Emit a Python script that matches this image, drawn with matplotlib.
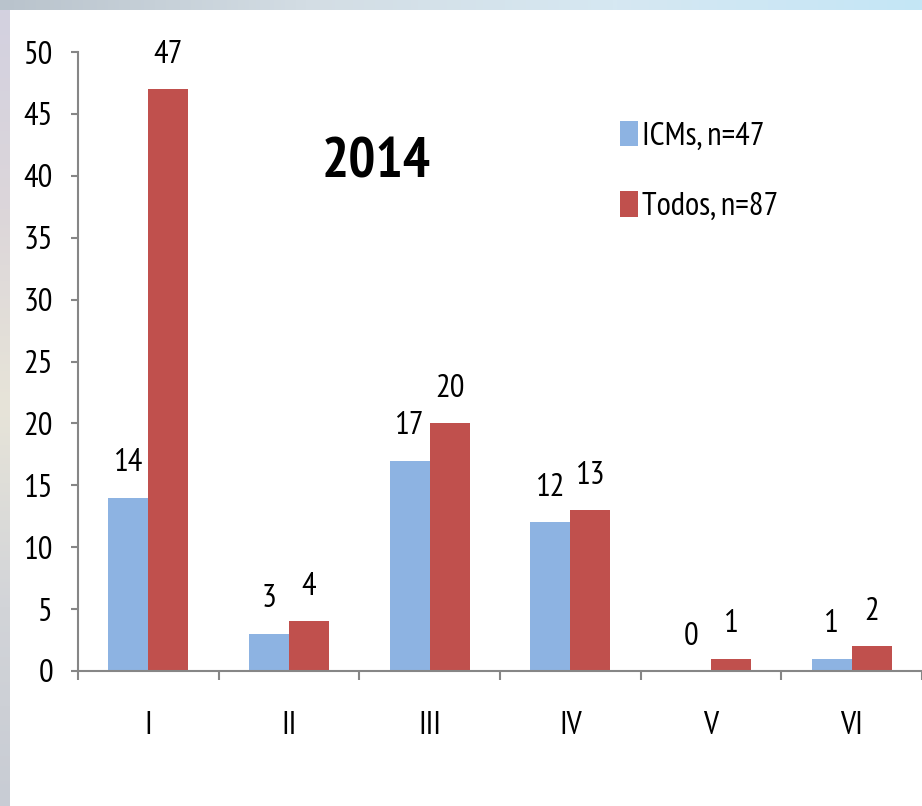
import matplotlib.pyplot as plt
import matplotlib.patches as patches
from matplotlib.colors import LinearSegmentedColormap
import numpy as np

plt.rcParams['font.family'] = ['PT Sans Narrow', 'DejaVu Sans']

# data
categories = ['I', 'II', 'III', 'IV', 'V', 'VI']
icms = [14, 3, 17, 12, 0, 1]
todos = [47, 4, 20, 13, 1, 2]
series_labels = ['ICMs, n=47', 'Todos, n=87']
title = '2014'

blue = '#8db3e2'
red = '#c0504d'
gray = '#868686'
fs = 23.5

fig = plt.figure(figsize=(9.22, 8.06), dpi=100)

# background: faint sky-like strips at top and left, white panel
bg = fig.add_axes([0, 0, 1, 1], zorder=-10)
sky = LinearSegmentedColormap.from_list('sky', ['#b9c3cc', '#d3dde4', '#d6e8f2', '#c4e6f6'])
side = LinearSegmentedColormap.from_list('side', ['#d3d1e0', '#dcd6da', '#e7e4d8', '#d2d4d8', '#c8ccd4'])
bg.imshow(np.linspace(0, 1, 256)[None, :], extent=[0, 1, 0, 1], aspect='auto', cmap=sky)
bg.imshow(np.linspace(0, 1, 256)[:, None], extent=[0, 10 / 922, 0, 1 - 10 / 806],
          aspect='auto', cmap=side)
bg.add_patch(patches.Rectangle((10 / 922, 0), 1, 1 - 10 / 806,
                               facecolor='white', edgecolor='none'))
bg.set_xlim(0, 1)
bg.set_ylim(0, 1)
bg.axis('off')

ax = fig.add_axes([78 / 922, 135 / 806, 1 - 78 / 922, (671 - 52) / 806])
ax.set_facecolor('none')

x = np.arange(len(categories)) + 0.5
w = 0.285
b1 = ax.bar(x - w / 2, icms, w, color=blue, label=series_labels[0])
b2 = ax.bar(x + w / 2, todos, w, color=red, label=series_labels[1])

for xs, vals in ((x - w / 2, icms), (x + w / 2, todos)):
    for xi, v in zip(xs, vals):
        ax.annotate(str(v), (xi, v), xytext=(0, 19), textcoords='offset points',
                    ha='center', va='baseline', fontsize=fs)

ax.set_xlim(0, len(categories))
ax.set_ylim(0, 50)
ax.set_yticks(range(0, 51, 5))
ax.set_xticks(np.arange(len(categories) + 1))
ax.set_xticklabels([])
ax.set_xticks(x, minor=True)
ax.set_xticklabels(categories, minor=True, fontsize=fs)
ax.tick_params(axis='x', which='minor', length=0, pad=29)
ax.tick_params(axis='x', which='major', length=6.5, width=1.5, color=gray, direction='out')
ax.tick_params(axis='y', length=5, width=1.5, color=gray, labelsize=fs, pad=13)

for s in ['top', 'right']:
    ax.spines[s].set_visible(False)
for s in ['left', 'bottom']:
    ax.spines[s].set_color(gray)
    ax.spines[s].set_linewidth(1.5)
ax.spines['bottom'].set_zorder(5)

fig.text(376 / 922, 1 - 177 / 806, title, ha='center', va='baseline',
         fontsize=41, fontweight='bold')

ax.legend(handles=[b1, b2], loc='upper left', bbox_to_anchor=(0.642, 0.889),
          frameon=False, fontsize=fs, handlelength=0.55, handleheight=0.83,
          handletextpad=0.12, labelspacing=1.2, borderpad=0, borderaxespad=0)

fig.savefig('out.png', dpi=100)
